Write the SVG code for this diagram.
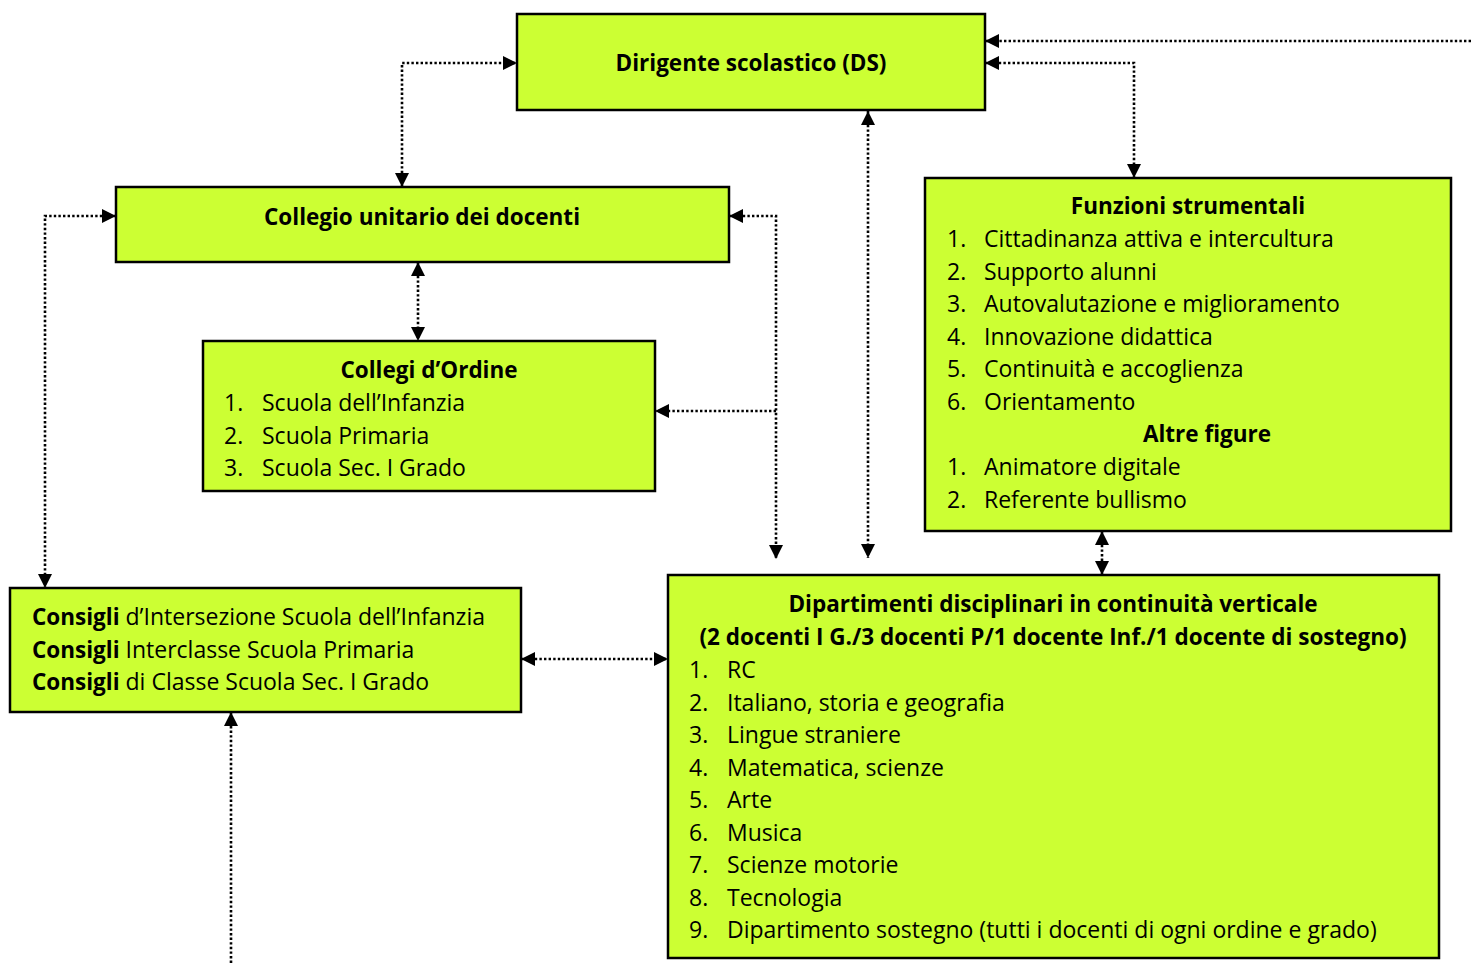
<svg xmlns="http://www.w3.org/2000/svg" width="1471" height="963" viewBox="0 0 1471 963">
<style>
.box{fill:#CCFF33;stroke:#000;stroke-width:2.5}
text{font-family:"Open Sans","Noto Sans",sans-serif;font-size:23px;fill:#000}
.b{font-weight:bold;font-size:22.5px}
.c{text-anchor:middle}
.ln{fill:none;stroke:#000;stroke-width:2.6;stroke-dasharray:2.4 2.2}
</style>
<defs>
<marker id="ah" viewBox="0 0 10 10" refX="10" refY="5" markerWidth="15" markerHeight="14" markerUnits="userSpaceOnUse" orient="auto-start-reverse">
<path d="M0,0 L10,5 L0,10 z" fill="#000"/>
</marker>
</defs>
<rect width="1471" height="963" fill="#fff"/>
<g id="connectors">
<path class="ln" d="M402,187 V63 H517" marker-start="url(#ah)" marker-end="url(#ah)"/>
<path class="ln" d="M1471,41 H985" marker-end="url(#ah)"/>
<path class="ln" d="M985,63 H1134 V178" marker-start="url(#ah)" marker-end="url(#ah)"/>
<path class="ln" d="M868,111 V558" marker-start="url(#ah)" marker-end="url(#ah)"/>
<path class="ln" d="M729,216 H776 V559" marker-start="url(#ah)" marker-end="url(#ah)"/>
<path class="ln" d="M776,411 H655" marker-end="url(#ah)"/>
<path class="ln" d="M418,262 V341" marker-start="url(#ah)" marker-end="url(#ah)"/>
<path class="ln" d="M116,216 H45 V588" marker-start="url(#ah)" marker-end="url(#ah)"/>
<path class="ln" d="M1102,531 V575" marker-start="url(#ah)" marker-end="url(#ah)"/>
<path class="ln" d="M521,659 H668" marker-start="url(#ah)" marker-end="url(#ah)"/>
<path class="ln" d="M231,963 V712" marker-end="url(#ah)"/>
</g>
<g id="ds">
<rect class="box" x="517" y="14" width="468" height="96"/>
<text class="b c" x="751" y="71">Dirigente scolastico (DS)</text>
</g>
<g id="collegio-unitario">
<rect class="box" x="116" y="187" width="613" height="75"/>
<text class="b c" x="422" y="225">Collegio unitario dei docenti</text>
</g>
<g id="collegi-ordine">
<rect class="box" x="203" y="341" width="452" height="150"/>
<text class="b c" x="429" y="378">Collegi d’Ordine</text>
<text x="224" y="411">1.</text><text x="262" y="411">Scuola dell’Infanzia</text>
<text x="224" y="444">2.</text><text x="262" y="444">Scuola Primaria</text>
<text x="224" y="476">3.</text><text x="262" y="476">Scuola Sec. I Grado</text>
</g>
<g id="funzioni">
<rect class="box" x="925" y="178" width="526" height="353"/>
<text class="b c" x="1188" y="214">Funzioni strumentali</text>
<text x="947" y="247">1.</text><text x="984" y="247">Cittadinanza attiva e intercultura</text>
<text x="947" y="280">2.</text><text x="984" y="280">Supporto alunni</text>
<text x="947" y="312">3.</text><text x="984" y="312">Autovalutazione e miglioramento</text>
<text x="947" y="345">4.</text><text x="984" y="345">Innovazione didattica</text>
<text x="947" y="377">5.</text><text x="984" y="377">Continuità e accoglienza</text>
<text x="947" y="410">6.</text><text x="984" y="410">Orientamento</text>
<text class="b c" x="1207" y="442">Altre figure</text>
<text x="947" y="475">1.</text><text x="984" y="475">Animatore digitale</text>
<text x="947" y="508">2.</text><text x="984" y="508">Referente bullismo</text>
</g>
<g id="consigli">
<rect class="box" x="10" y="588" width="511" height="124"/>
<text x="32" y="625"><tspan class="b">Consigli</tspan> d’Intersezione Scuola dell’Infanzia</text>
<text x="32" y="658"><tspan class="b">Consigli</tspan> Interclasse Scuola Primaria</text>
<text x="32" y="690"><tspan class="b">Consigli</tspan> di Classe Scuola Sec. I Grado</text>
</g>
<g id="dipartimenti">
<rect class="box" x="668" y="575" width="771" height="383"/>
<text class="b c" x="1053" y="612">Dipartimenti disciplinari in continuità verticale</text>
<text class="b c" x="1053" y="645">(2 docenti I G./3 docenti P/1 docente Inf./1 docente di sostegno)</text>
<text x="689" y="678">1.</text><text x="727" y="678">RC</text>
<text x="689" y="711">2.</text><text x="727" y="711">Italiano, storia e geografia</text>
<text x="689" y="743">3.</text><text x="727" y="743">Lingue straniere</text>
<text x="689" y="776">4.</text><text x="727" y="776">Matematica, scienze</text>
<text x="689" y="808">5.</text><text x="727" y="808">Arte</text>
<text x="689" y="841">6.</text><text x="727" y="841">Musica</text>
<text x="689" y="873">7.</text><text x="727" y="873">Scienze motorie</text>
<text x="689" y="906">8.</text><text x="727" y="906">Tecnologia</text>
<text x="689" y="938">9.</text><text x="727" y="938">Dipartimento sostegno (tutti i docenti di ogni ordine e grado)</text>
</g>
</svg>
